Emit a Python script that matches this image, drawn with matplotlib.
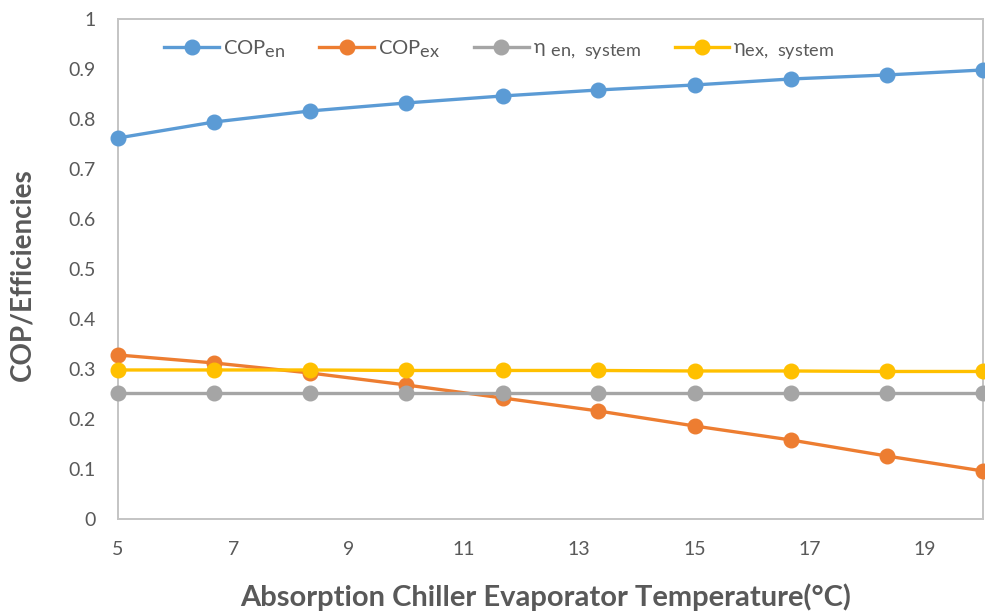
import numpy as np
import matplotlib
matplotlib.use("Agg")
import matplotlib.pyplot as plt
import matplotlib._mathtext as mathtext_impl
from matplotlib.ticker import FuncFormatter

# evaporator temperature (deg C) and performance values
temp = [5.0, 6.67, 8.33, 10.0, 11.67, 13.33, 15.0, 16.67, 18.33, 20.0]
cop_en = [0.762, 0.794, 0.816, 0.832, 0.846, 0.858, 0.868, 0.880, 0.888, 0.898]
cop_ex = [0.328, 0.312, 0.292, 0.268, 0.242, 0.216, 0.186, 0.158, 0.126, 0.096]
eta_en_sys = [0.252, 0.252, 0.252, 0.252, 0.252, 0.252, 0.252, 0.252, 0.252, 0.252]
eta_ex_sys = [0.298, 0.298, 0.298, 0.297, 0.297, 0.297, 0.296, 0.296, 0.295, 0.295]

labels = [r"COP$_{\mathregular{en}}$", r"COP$_{\mathregular{ex}}$",
          r"η$_{\mathregular{\ en,\ system}}$", r"η$_{\mathregular{ex,\ system}}$"]
colors = ["#5B9BD5", "#ED7D31", "#A5A5A5", "#FFC000"]

# subscripts nearly full size, like the office-style legend text
mathtext_impl.SHRINK_FACTOR = 0.9

plt.rcParams['font.family'] = ['Lato', 'DejaVu Sans']
plt.rcParams['mathtext.default'] = 'regular'

fig = plt.figure(figsize=(9.85, 6.12), dpi=100)
ax = fig.add_axes([0.1198, 0.152, 0.878, 0.817])

for ys, lab, c in zip([cop_en, cop_ex, eta_en_sys, eta_ex_sys], labels, colors):
    ax.plot(temp, ys, color=c, lw=2.4, marker='o', ms=10.5, label=lab,
            clip_on=False, zorder=3)

ax.set_xlim(5, 20)
ax.set_ylim(0, 1)
ax.set_xticks(np.arange(5, 20, 2))
ax.set_yticks(np.linspace(0, 1, 11))
ax.yaxis.set_major_formatter(FuncFormatter(lambda v, p: "{:g}".format(round(v, 1))))

for s in ax.spines.values():
    s.set_color("#C4C4C4")
    s.set_linewidth(1.4)
ax.tick_params(length=0, labelsize=14, labelcolor="#595959")
ax.tick_params(axis='y', pad=16)
ax.tick_params(axis='x', pad=16)

ax.set_xlabel("Absorption Chiller Evaporator Temperature(°C)", fontsize=21,
              fontweight='bold', color="#595959")
ax.set_ylabel("COP/Efficiencies", fontsize=20, fontweight='bold', color="#595959")
ax.xaxis.set_label_coords(0.494, -0.156)
ax.yaxis.set_label_coords(-0.110, 0.488)
ax.xaxis.label.set_va('center')
ax.yaxis.label.set_va('center')

leg = ax.legend(loc='center left', bbox_to_anchor=(0.042, 0.938), ncol=4,
                frameon=False, fontsize=14.5, handlelength=2.7,
                handletextpad=0.2, columnspacing=1.7, borderpad=0)
for t in leg.get_texts():
    t.set_color("#595959")

fig.savefig("out.png", dpi=100)
